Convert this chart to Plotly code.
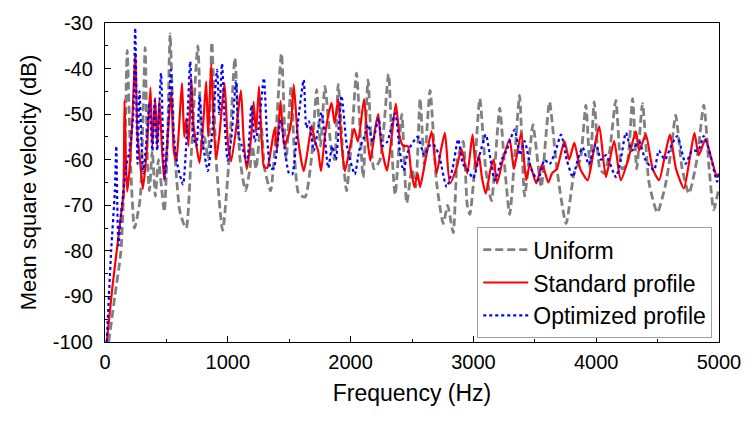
import plotly.graph_objects as go

# ---- data (frequency in Hz, level in dB) ----
uniform_f = [30, 80, 130, 160, 181, 210, 240, 286, 310, 327, 345, 362, 385, 410, 435, 460, 483, 510, 530, 560,
             608, 640, 662, 700, 756, 790, 810, 840, 870, 905, 958, 1010, 1058, 1100, 1145, 1180, 1200, 1230, 1270,
             1300, 1348, 1390, 1437, 1475, 1515, 1545, 1578, 1629, 1680, 1724, 1755, 1791, 1840, 1870, 1899, 1940,
             1967, 2010, 2048, 2102, 2142, 2190, 2240, 2309, 2340, 2363, 2417, 2457, 2500, 2530, 2566, 2600, 2647,
             2700, 2755, 2790, 2836, 2870, 2917, 2950, 2971, 3010, 3052, 3100, 3147, 3214, 3250, 3295, 3340, 3376,
             3417, 3460, 3485, 3552, 3590, 3620, 3680, 3755, 3820, 3870, 3916, 3950, 3984, 4030, 4065, 4110, 4160,
             4210, 4250, 4296, 4330, 4377, 4430, 4498, 4560, 4610, 4647, 4700, 4755, 4820, 4876, 4920, 4957, 5000]
uniform_db = [-100, -90, -80, -60, -36, -62, -75, -68.6, -50, -35.4, -60, -66.8, -58, -68, -60, -66, -71.4, -55, -32.4, -55,
              -71.1, -74, -75, -60, -35, -58, -55, -60, -34.2, -60, -75.5, -60, -37.7, -60, -66.8, -62, -57, -62, -52,
              -62, -66.8, -55, -36.7, -60, -43.9, -60, -67.5, -68.2, -60, -44.6, -57, -43.9, -57, -60, -43.5, -60,
              -66.8, -55, -41, -63.9, -42.5, -62, -60, -41.2, -60, -67.7, -50, -69.5, -62, -66, -46.6, -61, -44.8,
              -65, -74, -70, -76, -60, -56, -70, -72, -62, -46.6, -62, -69, -48.7, -60, -72, -58, -45.9,
              -68, -58, -52.3, -66, -55, -47.3, -62, -74, -63, -60, -48, -62, -47.3, -62, -63, -58, -47,
              -62, -61, -46.6, -62, -47.7, -65, -71.6, -66, -58, -50.2, -62, -67.4, -60, -48, -62, -71, -66]

standard_f = [14, 60, 100, 140, 150, 159, 170, 181, 200, 225, 246, 265, 285, 308, 340, 370, 386, 408, 425, 443, 465,
              483, 510, 540, 560, 581, 605, 627, 645, 662, 680, 702, 720, 745, 770, 800, 824, 840, 865, 885, 905, 930,
              973, 1000, 1027, 1078, 1107, 1130, 1154, 1190, 1210, 1230, 1254, 1275, 1296, 1321, 1350, 1382, 1400,
              1429, 1460, 1490, 1515, 1537, 1570, 1618, 1650, 1683, 1710, 1735, 1759, 1790, 1820, 1845, 1870, 1899,
              1925, 1953, 1990, 2029, 2060, 2110, 2135, 2161, 2201, 2225, 2250, 2296, 2330, 2368, 2400, 2430, 2466,
              2490, 2520, 2545, 2566, 2610, 2660, 2700, 2735, 2768, 2809, 2860, 2903, 2950, 2993, 3020, 3045, 3070,
              3101, 3140, 3165, 3192, 3240, 3295, 3330, 3390, 3430, 3460, 3512, 3560, 3610, 3640, 3680, 3741, 3780,
              3822, 3870, 3930, 3980, 4025, 4079, 4146, 4200, 4260, 4323, 4350, 4404, 4460, 4512, 4560, 4601, 4650,
              4714, 4760, 4800, 4835, 4890, 4940, 4984, 5000]
standard_db = [-100, -88, -79, -70, -68, -47, -60, -67, -62, -50, -36.7, -55, -60, -66.4, -58, -44.2, -57, -46.4, -57, -47, -58,
               -64.6, -55, -45, -58, -60.3, -52, -43.2, -55, -51, -57, -42.1, -52, -57, -60.7, -52, -42.8, -55, -38.9, -52, -59.8, -55,
               -43.2, -56, -60.3, -51, -44.8, -56, -62.1, -55, -47.3, -54, -43.9, -55, -61.6, -61.8, -58, -53, -58,
               -47.1, -57, -55, -52, -43.5, -55, -62.5, -58, -52.5, -56, -58, -62.5, -55, -50, -47.5, -52, -46.7,
               -56, -62.5, -58, -53.2, -56, -46.7, -55, -60.2, -53, -50, -57, -62.4, -56, -47.7, -55, -57, -57,
               -62, -66, -63, -66, -60, -53.8, -63, -58, -54.1, -65.2, -62, -57.7, -63, -54.5, -62, -59, -64,
               -67.4, -62, -60, -65.2, -60, -55.5, -62, -54.1, -64.5, -61, -65.2, -61, -65, -63, -62, -55.9, -60,
               -56.3, -62, -64.5, -58, -52.7, -63.8, -55.9, -64.5, -60, -53.8, -58, -54.5, -62, -64.5, -59, -54.5, -62,
               -66.3, -60, -54.1, -59, -55.5, -60, -63.8, -63]

optimized_f = [14, 50, 80, 92, 100, 110, 130, 150, 175, 200, 230, 246, 265, 281, 300, 311, 340, 362, 386, 405, 425,
               456, 475, 486, 510, 537, 560, 594, 635, 665, 694, 720, 745, 770, 800, 838, 870, 913, 930, 953, 975,
               999, 1030, 1067, 1090, 1115, 1156, 1193, 1220, 1250, 1294, 1320, 1350, 1375, 1431, 1460, 1499, 1524,
               1570, 1618, 1640, 1661, 1700, 1764, 1818, 1850, 1880, 1926, 1970, 2034, 2070, 2110, 2142, 2180, 2228,
               2260, 2300, 2363, 2400, 2430, 2470, 2545, 2600, 2640, 2674, 2720, 2782, 2830, 2876, 2915, 2950, 2998,
               3050, 3101, 3140, 3174, 3230, 3270, 3336, 3380, 3417, 3470, 3525, 3580, 3620, 3670, 3714, 3760, 3809,
               3850, 3890, 3940, 3997, 4040, 4080, 4160, 4200, 4242, 4290, 4350, 4400, 4471, 4510, 4560, 4610, 4660,
               4728, 4780, 4830, 4876, 4930, 4984, 5000]
optimized_db = [-100, -80, -67, -57, -70, -78.8, -72, -67, -61, -58, -50, -31.1, -60.9, -45, -58, -63, -55, -47.5, -58, -47, -58,
                -41, -58, -64.1, -55, -40.3, -55, -61.6, -65.4, -55, -38.5, -55, -57, -46, -57, -62.5, -55, -40.3, -50, -38.9, -52,
                -60.2, -55, -42.7, -55, -57, -60.6, -48, -56, -53, -42.1, -55, -62, -61.8, -51.3, -57, -63, -63.2,
                -52, -42.5, -53, -51.6, -58, -49.6, -61.8, -57, -60, -46, -57, -63.2, -58, -55, -52.3, -56, -50.9,
                -57, -56, -49.8, -58, -62.4, -58, -55, -59, -57, -56.6, -59, -66, -62, -55.5, -61, -62, -64.1,
                -59, -54.5, -60, -64.5, -60, -58, -53.4, -59, -55.9, -62, -64.5, -60, -61, -58, -54.5, -60, -63.8,
                -60, -57.3, -61, -56.6, -60, -59, -63.8, -60, -54.1, -58, -56, -60, -62.3, -58, -60, -57, -54.8,
                -60.9, -58, -58, -54.8, -59, -64.8, -63]

x_ticks = [0, 1000, 2000, 3000, 4000, 5000]
y_ticks = [-100, -90, -80, -70, -60, -50, -40, -30]

FONT = "Arial, Liberation Sans, sans-serif"

fig = go.Figure()
fig.add_trace(go.Scatter(x=uniform_f, y=uniform_db, mode="lines", name="Uniform",
                         line=dict(color="#808080", width=2.8, dash="8px,4px", shape="spline", smoothing=0.6)))
fig.add_trace(go.Scatter(x=standard_f, y=standard_db, mode="lines", name="Standard profile",
                         line=dict(color="#ff0000", width=2.2, shape="spline", smoothing=0.6)))
fig.add_trace(go.Scatter(x=optimized_f, y=optimized_db, mode="lines", name="Optimized profile",
                         line=dict(color="#0000ff", width=2.2, dash="dot", shape="spline", smoothing=0.6)))

axis_common = dict(showgrid=False, zeroline=False, showline=True, linecolor="black", linewidth=1.3,
                   mirror=True, ticks="inside", ticklen=6, tickwidth=1.3, tickcolor="black",
                   tickfont=dict(family=FONT, size=20, color="black"))

fig.update_xaxes(range=[0, 5000], tickvals=x_ticks, ticktext=[str(v) for v in x_ticks],
                 minor=dict(ticks="inside", ticklen=3, tickwidth=1.2, tickcolor="black", dtick=500),
                 ticklabelstandoff=2,
                 title=dict(text="Frequency (Hz)", font=dict(family=FONT, size=23, color="black"), standoff=12),
                 **axis_common)
fig.update_yaxes(range=[-100, -30], tickvals=y_ticks, ticktext=[str(v) for v in y_ticks],
                 minor=dict(ticks="inside", ticklen=3, tickwidth=1.2, tickcolor="black", dtick=5),
                 ticklabelstandoff=7,
                 title=dict(text="Mean square velocity (dB)", font=dict(family=FONT, size=22, color="black"), standoff=10),
                 **axis_common)

fig.update_layout(
    width=753, height=421,
    margin=dict(l=105, r=31, t=16, b=79),
    paper_bgcolor="white", plot_bgcolor="white",
    showlegend=True,
    legend=dict(x=0.989, y=0.012, xanchor="right", yanchor="bottom",
                bgcolor="white", bordercolor="#a0a0a0", borderwidth=1,
                font=dict(family=FONT, size=23, color="black"),
                tracegroupgap=0, itemwidth=45),
)

fig.write_html("out.html")
